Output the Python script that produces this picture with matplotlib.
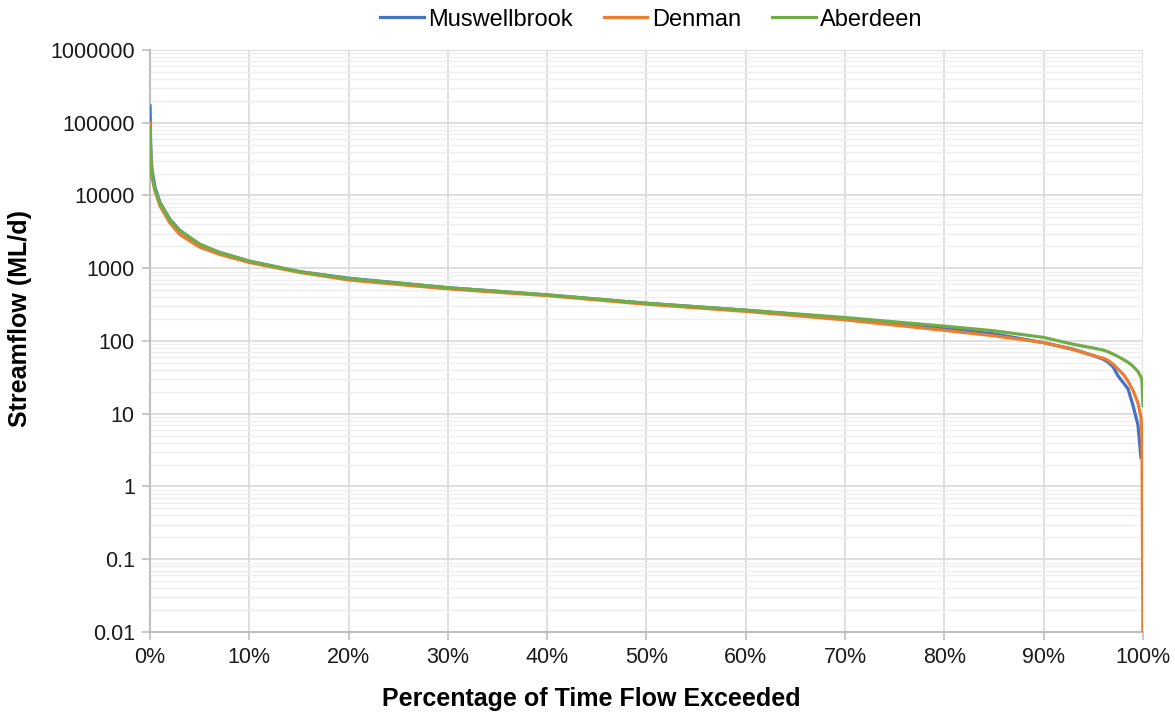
import numpy as np
import matplotlib
matplotlib.use('Agg')
import matplotlib.pyplot as plt
from matplotlib.ticker import FixedLocator, LogLocator, FuncFormatter, NullFormatter

plt.rcParams['font.family'] = ['Liberation Sans', 'DejaVu Sans']

# percentage of time flow exceeded (%)
pct = [0, 0.05, 0.1, 0.2, 0.5, 1, 2, 3, 5, 7, 10, 15, 20, 30, 40, 50, 60, 70,
       80, 85, 90, 93, 95, 96, 96.5, 97, 97.5, 98, 98.5, 99, 99.5, 99.8, 99.9, 100]

# streamflow (ML/d)
muswellbrook = [170000, 60000, 35000, 22000, 13000, 8000, 4700, 3300, 2100, 1650,
                1250, 900, 730, 540, 430, 330, 265, 205, 150, 125, 95, 77, 63, 56,
                51, 44, 33, 27, 22, 13, 7, 2.5, np.nan, np.nan]
denman = [100000, 45000, 28000, 18000, 11500, 7200, 4200, 2900, 1950, 1550,
          1200, 880, 690, 520, 420, 320, 255, 195, 140, 118, 95, 76, 63, 58,
          54, 48, 41, 35, 28, 21, 14, 9, 5.5, 0.01]
aberdeen = [85000, 40000, 27000, 18000, 12000, 7800, 4600, 3300, 2150, 1650,
            1250, 900, 720, 540, 430, 330, 265, 210, 160, 138, 112, 90, 80, 75,
            71, 66, 61, 56, 51, 45, 38, 32, 29, 13]

series = [('Muswellbrook', muswellbrook, '#4472C4'),
          ('Denman', denman, '#ED7D31'),
          ('Aberdeen', aberdeen, '#70AD47')]

x_ticks = np.arange(0, 101, 10)
y_ticks = [0.01, 0.1, 1, 10, 100, 1000, 10000, 100000, 1000000]

fig = plt.figure(figsize = (11.75, 7.15), dpi = 100)
ax = fig.add_axes([0.1277, 0.1161, 0.845, 0.814])

for name, vals, col in series:
    ax.plot(pct, vals, color = col, linewidth = 2.3, label = name,
            solid_joinstyle = 'round', zorder = 3)

ax.set_yscale('log')
ax.set_xlim(0, 100)
ax.set_ylim(0.01, 1000000)

ax.xaxis.set_major_locator(FixedLocator(x_ticks))
ax.xaxis.set_major_formatter(FuncFormatter(lambda v, p: '%d%%' % v))
ax.yaxis.set_major_locator(FixedLocator(y_ticks))
ax.yaxis.set_major_formatter(FuncFormatter(
    lambda v, p: ('%.2f' % v).rstrip('0').rstrip('.')))
ax.yaxis.set_minor_locator(LogLocator(base = 10, subs = np.arange(2, 10), numticks = 20))
ax.yaxis.set_minor_formatter(NullFormatter())

ax.grid(True, which = 'major', color = '#d9d9d9', linewidth = 1.2, zorder = 0)
ax.yaxis.grid(True, which = 'minor', color = '#efefef', linewidth = 1.0, zorder = 0)
ax.set_axisbelow(True)

for s in ['top', 'right']:
    ax.spines[s].set_visible(False)
for s in ['left', 'bottom']:
    ax.spines[s].set_color('#bfbfbf')
    ax.spines[s].set_linewidth(1.5)

ax.tick_params(axis = 'both', which = 'major', color = '#bfbfbf', length = 6,
               width = 1.2, labelsize = 15.5, labelcolor = '#1a1a1a', pad = 5)
ax.tick_params(axis = 'y', which = 'minor', length = 0)

# axis titles sit off-centre in the original, so place them on the figure
fig.text(0.503, 0.022, 'Percentage of Time Flow Exceeded', fontsize = 18,
         fontweight = 'bold', ha = 'center', va = 'center')
fig.text(0.017, 0.555, 'Streamflow (ML/d)', fontsize = 18, fontweight = 'bold',
         rotation = 90, ha = 'center', va = 'center')

ax.legend(loc = 'center', bbox_to_anchor = (0.505, 1.052), ncol = 3, frameon = False,
          fontsize = 17, handlelength = 1.85, columnspacing = 1.3, handletextpad = 0.2,
          borderaxespad = 0)

plt.savefig('out.png', dpi = 100)
